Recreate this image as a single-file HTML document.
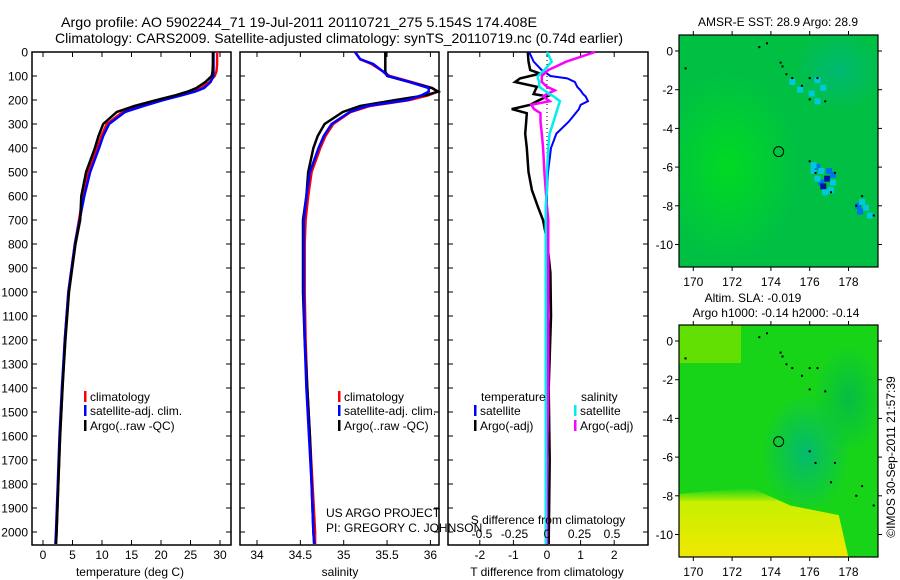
<!DOCTYPE html>
<html><head><meta charset="utf-8">
<style>
html,body{margin:0;padding:0;background:#fff;}
svg{display:block;font-family:"Liberation Sans",sans-serif;}
text{fill:#000;}
</style></head>
<body>
<svg id="fig" width="900" height="580" viewBox="0 0 900 580" xmlns="http://www.w3.org/2000/svg">
<defs>
  <radialGradient id="g1" cx="0.5" cy="0.5" r="0.5"><stop offset="0" stop-color="#00dd20" stop-opacity="0.9"/><stop offset="1" stop-color="#00dd20" stop-opacity="0"/></radialGradient>
  <radialGradient id="g2" cx="0.5" cy="0.5" r="0.5"><stop offset="0" stop-color="#00b878" stop-opacity="0.9"/><stop offset="1" stop-color="#00b878" stop-opacity="0"/></radialGradient>
  <radialGradient id="g3" cx="0.5" cy="0.5" r="0.5"><stop offset="0" stop-color="#00b850" stop-opacity="0.8"/><stop offset="1" stop-color="#00b850" stop-opacity="0"/></radialGradient>
  <linearGradient id="yel" x1="0" y1="0" x2="0" y2="1"><stop offset="0" stop-color="#a8f000" stop-opacity="0"/><stop offset="0.2" stop-color="#c8f000"/><stop offset="1" stop-color="#f0e800"/></linearGradient>
  <clipPath id="cm1"><rect x="679" y="35" width="199" height="232"/></clipPath>
  <clipPath id="cm2"><rect x="679" y="325" width="199" height="232"/></clipPath>
</defs>
<text x="61" y="27" font-size="14" textLength="476" lengthAdjust="spacingAndGlyphs">Argo profile: AO 5902244_71 19-Jul-2011 20110721_275 5.154S 174.408E</text>
<text x="55" y="43" font-size="14" textLength="568" lengthAdjust="spacingAndGlyphs">Climatology: CARS2009. Satellite-adjusted climatology: synTS_20110719.nc (0.74d earlier)</text>
<g id="plots"></g>
<g id="maps"></g>
</svg>
<script>
// ---- profile data ----
const depths = [0,30,50,80,100,125,150,165,180,200,225,250,300,350,400,500,600,700,800,1000,1200,1400,1600,1800,2000,2050];
const tArgo = [28.8,28.8,28.8,28.75,28.6,27.5,26.0,24.5,22.5,19.3,15.5,12.5,10.2,9.4,8.8,7.3,6.5,6.3,5.5,4.4,3.8,3.3,2.9,2.6,2.3,2.2];
const tClim = [29.5,29.5,29.5,29.4,29.1,28.2,26.8,25.3,23.2,20.0,16.5,13.5,10.8,9.9,9.2,7.7,6.8,6.1,5.4,4.3,3.7,3.3,2.9,2.6,2.3,2.2];
const tSat = [28.9,28.9,28.9,28.9,28.9,28.4,27.3,25.8,23.6,20.4,17.0,13.9,11.2,10.2,9.5,8.0,7.0,6.2,5.4,4.3,3.7,3.2,2.8,2.5,2.2,2.1];
const sArgo = [35.48,35.48,35.48,35.48,35.50,35.76,36.02,36.09,35.95,35.6,35.19,34.99,34.78,34.70,34.65,34.59,34.57,34.53,34.53,34.53,34.55,34.58,34.61,34.63,34.65,34.66];
const sClim = [35.13,35.19,35.32,35.45,35.53,35.78,36.02,36.08,35.98,35.76,35.30,35.08,34.88,34.79,34.73,34.63,34.59,34.56,34.55,34.55,34.56,34.58,34.61,34.64,34.67,34.67];
const sSat = [35.13,35.19,35.34,35.45,35.51,35.76,35.98,35.98,35.90,35.74,35.27,35.07,34.86,34.77,34.71,34.61,34.57,34.54,34.54,34.54,34.55,34.57,34.60,34.63,34.65,34.66];
// ---- difference data ----
const dDepths = [0,40,75,90,100,110,125,145,160,175,185,205,220,238,255,290,340,400,500,575,645,700,785,920,1100,1400,1700,2050];
const dTArgo = [-0.57,-0.55,-0.5,-0.2,-0.5,-0.8,-0.95,-0.3,-0.35,-0.4,0,-0.3,-0.5,-1.05,-0.6,-0.62,-0.65,-0.6,-0.55,-0.45,-0.27,-0.12,0,0.1,0.12,0.05,0.08,0.05];
const dTSat = [-0.53,-0.4,-0.16,0.0,0.1,0.6,0.83,0.9,1.0,1.07,1.15,1.22,1.0,0.95,0.85,0.65,0.28,0.12,0.03,0,0,0,0,0,0,0,-0.02,-0.02];
const dSSat = [0.0,0.036,-0.02,-0.05,-0.07,-0.07,-0.06,-0.06,-0.02,0.02,0.05,0.1,0.09,0.08,0.07,0.05,0.02,0.01,0,0,-0.01,-0.01,-0.01,-0.01,-0.01,-0.01,-0.01,-0.01];
const dSArgo = [0.37,0.15,0.01,-0.02,-0.04,-0.04,-0.04,0.0,0.06,0.0,-0.03,0.02,-0.12,-0.10,-0.05,-0.05,-0.04,-0.03,-0.02,-0.01,0,0.01,0.01,0.01,0.01,0.01,0,0];
// ---- ticks ----
const depthTicks = [0,100,200,300,400,500,600,700,800,900,1000,1100,1200,1300,1400,1500,1600,1700,1800,1900,2000];
const tTicks = [0,5,10,15,20,25,30];
const sTicks = [34,34.5,35,35.5,36];
const dTTicks = [-2,-1,0,1,2];
const dSTicks = [-0.5,-0.25,0,0.25,0.5];
// ---- map data ----
const lonTicks = [170,172,174,176,178];
const latTicks = [0,-2,-4,-6,-8,-10];
const argoLon = 174.4, argoLat = -5.2;
const sstCold = [[176.2,-6.2,1],[176.4,-6.0,2],[176.6,-6.2,1],[177.0,-6.2,2],[176.9,-6.6,3],[176.6,-6.8,2],[176.7,-7.0,3],[177.2,-6.4,2],[177.2,-6.8,1],[176.4,-6.6,1],[176.8,-7.3,1],[177.1,-7.2,1],[176.2,-5.9,1],[178.5,-8.0,2],[178.7,-7.8,1],[178.9,-8.1,1],[178.6,-8.3,2],[179.1,-8.5,1],[176.4,-1.5,1],[176.1,-2.2,1],[176.7,-1.9,1],[175.1,-1.6,1],[175.5,-2.0,1],[176.4,-2.6,1]];
const islands = [[173.4,0.2],[173.8,0.4],[174.5,-0.6],[174.6,-0.8],[174.8,-1.2],[175.1,-1.4],[175.6,-1.8],[176.0,-1.4],[176.4,-1.4],[176.0,-2.5],[176.8,-2.6],[176.0,-5.7],[176.3,-6.3],[177.3,-6.3],[177.1,-7.3],[178.7,-7.5],[178.4,-8.0],[179.3,-8.5],[169.6,-0.9]];

const NS="http://www.w3.org/2000/svg";
function mk(tag,attrs,parent){const e=document.createElementNS(NS,tag);for(const k in attrs)e.setAttribute(k,attrs[k]);parent.appendChild(e);return e;}
const plots=document.getElementById('plots');
const Y0=52, PXD=0.24, BOT=545, TOP=52;
const yD=d=>Y0+d*PXD;

function panel(name,x0,x1,fx,xticks,fmt,showY){
  const g=mk('g',{},plots);
  
  
  mk('rect',{x:x0,y:TOP,width:x1-x0,height:BOT-TOP,fill:'none',stroke:'#000','stroke-width':1.5},g);
  depthTicks.forEach(d=>{
    const y=yD(d);
    mk('line',{x1:x0,x2:x0+5,y1:y,y2:y,stroke:'#000'},g);
    mk('line',{x1:x1-5,x2:x1,y1:y,y2:y,stroke:'#000'},g);
    if(showY){const t=mk('text',{x:x0-4,y:y+4.5,'font-size':12,'text-anchor':'end'},g);t.textContent=d;
      
      }
  });
  if(xticks) xticks.forEach(v=>{
    const x=fx(v);
    mk('line',{x1:x,x2:x,y1:BOT,y2:BOT-5,stroke:'#000'},g);
    mk('line',{x1:x,x2:x,y1:TOP,y2:TOP+5,stroke:'#000'},g);
    const t=mk('text',{x:x,y:BOT+14,'font-size':12,'text-anchor':'middle'},g);t.textContent=fmt(v);
    
    
  });
  return g;
}
function line(g,name,xs,ds,fx,color,w){
  const pts=xs.map((v,i)=>fx(v).toFixed(1)+','+yD(ds[i]).toFixed(1)).join(' ');
  const p=mk('polyline',{points:pts,fill:'none',stroke:color,'stroke-width':w,'stroke-linejoin':'miter'},g);
  
  
}
function txt(g,name,x,y,s,size,anchor){
  const t=mk('text',{x:x,y:y,'font-size':size||12,'text-anchor':anchor||'start'},g);t.textContent=s;
  
  
  return t;
}
function legend(g,x,y,color,label,name){
  const r=mk('rect',{x:x,y:y-10,width:2.5,height:11,fill:color},g);
  
  
  txt(g,name,x+6,y,label,12);
}
// panel 1 temperature
const fT=v=>43+v*5.9;
const g1=panel('temperature-panel',32,231,fT,tTicks,v=>v,true);
line(g1,'temperature-climatology',tClim,depths,fT,'#f00',2.5);
line(g1,'temperature-satellite-adj',tSat,depths,fT,'#00f',2.5);
line(g1,'temperature-argo',tArgo,depths,fT,'#000',2.5);
txt(g1,'x-axis-title',130,576,'temperature (deg C)',12,'middle');
legend(g1,84,401,'#f00','climatology','legend-climatology');
legend(g1,84,415,'#00f','satellite-adj. clim.','legend-satellite');
legend(g1,84,430,'#000','Argo(..raw -QC)','legend-argo');
// panel 2 salinity
const fS=v=>257+(v-34)*86.7;
const g2=panel('salinity-panel',240,439,fS,sTicks,v=>v,false);
line(g2,'salinity-climatology',sClim,depths,fS,'#f00',2.5);
line(g2,'salinity-argo',sArgo,depths,fS,'#000',2.5);
line(g2,'salinity-satellite-adj',sSat,depths,fS,'#00f',2.5);
txt(g2,'x-axis-title',340,576,'salinity',12,'middle');
legend(g2,338,401,'#f00','climatology','legend-climatology');
legend(g2,338,415,'#00f','satellite-adj. clim.','legend-satellite');
legend(g2,338,430,'#000','Argo(..raw -QC)','legend-argo');
txt(g2,'project-credit',326,517,'US ARGO PROJECT',12);
txt(g2,'pi-credit',326,532,'PI: GREGORY C. JOHNSON',12);
// panel 3 differences
const fDT=v=>547+v*33.6;
const fDS=v=>547+v*130;
const g3=panel('difference-panel',448,648,fDT,dTTicks,v=>v,false);
mk('line',{x1:547,x2:547,y1:TOP,y2:BOT,stroke:'#000','stroke-dasharray':'1,3'},g3);
line(g3,'t-diff-argo',dTArgo,dDepths,fDT,'#000',2.5);
line(g3,'t-diff-satellite',dTSat,dDepths,fDT,'#00f',2);
line(g3,'s-diff-argo',dSArgo,dDepths,fDS,'#f0f',2.5);
line(g3,'s-diff-satellite',dSSat,dDepths,fDS,'#0ee',2.5);
dSTicks.forEach(v=>{txt(g3,'s-tick-label',fDS(v),538,String(v),12,'middle');});
txt(g3,'s-axis-title',548,524,'S difference from climatology',12,'middle');
txt(g3,'x-axis-title',547,576,'T difference from climatology',12,'middle');
txt(g3,'legend-temperature-header',481,401,'temperature',12);
txt(g3,'legend-salinity-header',581,401,'salinity',12);
legend(g3,474,415,'#00f','satellite','legend-t-satellite');
legend(g3,474,430,'#000','Argo(-adj)','legend-t-argo');
legend(g3,574,415,'#0ee','satellite','legend-s-satellite');
legend(g3,574,430,'#f0f','Argo(-adj)','legend-s-argo');

// ---- maps ----
const maps=document.getElementById('maps');
const mx=lon=>693.3+(lon-170)*19.4;
function makeMap(name,top,lat0y,clip,kind){
  const my=lat=>lat0y-lat*19.35;
  const g=mk('g',{},maps);
  
  
  const inner=mk('g',{'clip-path':'url(#'+clip+')'},g);
  if(kind==='sst'){
    mk('rect',{x:679,y:top,width:199,height:232,fill:'#00c044'},inner);
    mk('ellipse',{cx:mx(171.8),cy:my(-6),rx:70,ry:95,fill:'url(#g1)'},inner);
    mk('ellipse',{cx:mx(177.5),cy:my(-1),rx:45,ry:40,fill:'url(#g2)'},inner);
    sstCold.forEach(c=>{
      const col=c[2]===3?'#0010a0':(c[2]===2?'#0070e8':'#00c8e0');
      const r=mk('rect',{x:mx(c[0])-3,y:my(c[1])-3,width:6,height:6,fill:col},inner);
      
      
    });
  } else {
    mk('rect',{x:679,y:top,width:199,height:232,fill:'#18d418'},inner);
    mk('rect',{x:679,y:top,width:62,height:38,fill:'#70e000',opacity:0.85},inner);
    mk('ellipse',{cx:mx(175.8),cy:my(-5.8),rx:45,ry:60,fill:'url(#g2)'},inner);
    mk('ellipse',{cx:mx(178),cy:my(-3),rx:35,ry:55,fill:'url(#g3)'},inner);
    mk('path',{d:`M679 ${my(-7.9)} L${mx(173)} ${my(-7.6)} L${mx(175)} ${my(-8.5)} L${mx(177.5)} ${my(-9.0)} L${mx(178)} ${my(-11.2)} L679 ${my(-11.2)} Z`,fill:'url(#yel)'},inner);
  }
  islands.forEach(p=>{
    const r=mk('rect',{x:mx(p[0])-1,y:my(p[1])-1,width:2,height:2,fill:'#000'},inner);
    
    
  });
  const c=mk('circle',{cx:mx(argoLon),cy:my(argoLat),r:5,fill:'none',stroke:'#000','stroke-width':1},g);
  
  
  mk('rect',{x:679,y:top,width:199,height:232,fill:'none',stroke:'#000','stroke-width':1.2},g);
  lonTicks.forEach(l=>{
    const x=mx(l);
    mk('line',{x1:x,x2:x,y1:top,y2:top-4,stroke:'#000'},g);
    mk('line',{x1:x,x2:x,y1:top+232,y2:top+236,stroke:'#000'},g);
    txt(g,'lon-tick-label',x,top+251,String(l),12,'middle');
  });
  latTicks.forEach(l=>{
    const y=my(l);
    mk('line',{x1:679,x2:675,y1:y,y2:y,stroke:'#000'},g);
    mk('line',{x1:878,x2:882,y1:y,y2:y,stroke:'#000'},g);
    txt(g,'lat-tick-label',673,y+4.5,String(l),12,'end');
  });
  return g;
}
const m1=makeMap('sst-map',35,51,'cm1','sst');
txt(m1,'sst-map-title',778,26,'AMSR-E SST: 28.9 Argo: 28.9',12,'middle');
const m2=makeMap('sla-map',325,341,'cm2','sla');
txt(m2,'sla-map-title',753,302,'Altim. SLA: -0.019',12,'middle');
txt(m2,'sla-map-subtitle',776,317,'Argo h1000: -0.14 h2000: -0.14',12,'middle');
const ct=txt(m2,'copyright-timestamp',0,0,'©IMOS 30-Sep-2011 21:57:39',12,'middle');
ct.setAttribute('transform','translate(895,457) rotate(-90)');
</script>
</body></html>
